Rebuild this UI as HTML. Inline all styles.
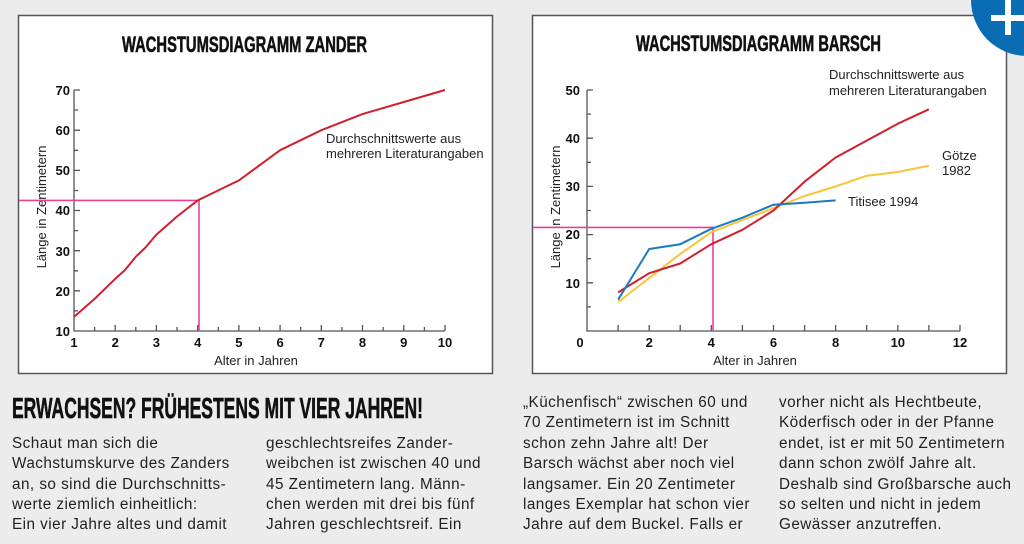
<!DOCTYPE html>
<html><head><meta charset="utf-8"><style>
html,body{margin:0;padding:0;background:#ececec;}
svg{display:block;}
text{font-family:"Liberation Sans",sans-serif;}
.t{font-weight:bold;font-size:13px;fill:#111;}
.b{font-size:15.3px;fill:#222;letter-spacing:0.45px;}
.a{font-size:13px;fill:#222;}
</style></head><body>
<svg width="1024" height="544" viewBox="0 0 1024 544" xmlns="http://www.w3.org/2000/svg">
<rect width="1024" height="544" fill="#ececec"/>
<!-- left chart -->
<rect x="18.5" y="15.5" width="474" height="358" fill="#fff" stroke="#555" stroke-width="1.5"/>
<text x="122" y="52" font-size="22" font-weight="bold" textLength="245" lengthAdjust="spacingAndGlyphs" fill="#111" stroke="#111" stroke-width="0.6">WACHSTUMSDIAGRAMM ZANDER</text>
<g stroke="#555" stroke-width="1.3" fill="none">
<path d="M74 90V331H445"/>
<path d="M74 90h6M74 110h4M74 130.2h6M74 150.3h4M74 170.4h6M74 190.5h4M74 210.5h6M74 230.6h4M74 250.7h6M74 270.8h4M74 290.8h6M74 310.9h4"/>
<path d="M115.2 331v-6M156.4 331v-6M197.7 331v-6M238.9 331v-6M280.1 331v-6M321.3 331v-6M362.5 331v-6M403.8 331v-6M445 331v-6M94.6 331v-4M135.8 331v-4M177 331v-4M218.3 331v-4M259.5 331v-4M300.7 331v-4M341.9 331v-4M383.2 331v-4M424.4 331v-4"/>
</g>
<g class="t" text-anchor="end">
<text x="70" y="95">70</text><text x="70" y="135">60</text><text x="70" y="175">50</text><text x="70" y="215">40</text><text x="70" y="256">30</text><text x="70" y="296">20</text><text x="70" y="336">10</text>
</g>
<g class="t" text-anchor="middle">
<text x="74" y="347">1</text><text x="115.2" y="347">2</text><text x="156.4" y="347">3</text><text x="197.7" y="347">4</text><text x="238.9" y="347">5</text><text x="280.1" y="347">6</text><text x="321.3" y="347">7</text><text x="362.5" y="347">8</text><text x="403.8" y="347">9</text><text x="445" y="347">10</text>
</g>
<text class="a" x="256" y="365" text-anchor="middle">Alter in Jahren</text>
<text class="a" transform="translate(46,207) rotate(-90)" text-anchor="middle">Länge in Zentimetern</text>
<text class="a" x="326" y="143">Durchschnittswerte aus</text>
<text class="a" x="326" y="158">mehreren Literaturangaben</text>
<path d="M19 200.4H199V331" stroke="#e8409a" stroke-width="1.6" fill="none"/>
<polyline points="74,316.9 94.6,298.9 115.2,278.8 125,270 135.8,256.7 145,248 156.4,234.6 177,216.5 197.7,200.4 238.9,180.4 280.1,150.2 321.3,130.2 362.5,114.1 403.8,102 445,90" fill="none" stroke="#d0202e" stroke-width="2" stroke-linejoin="round"/>

<!-- right chart -->
<rect x="532.5" y="15.5" width="474" height="358" fill="#fff" stroke="#555" stroke-width="1.5"/>
<text x="636" y="51" font-size="22" font-weight="bold" textLength="245" lengthAdjust="spacingAndGlyphs" fill="#111" stroke="#111" stroke-width="0.6">WACHSTUMSDIAGRAMM BARSCH</text>
<g stroke="#555" stroke-width="1.3" fill="none">
<path d="M587 90V331H960"/>
<path d="M587 90h6M587 114.1h4M587 138.2h6M587 162.3h4M587 186.4h6M587 210.5h4M587 234.6h6M587 258.7h4M587 282.8h6M587 306.9h4"/>
<path d="M618.1 331v-6M649.2 331v-6M680.2 331v-6M711.3 331v-6M742.4 331v-6M773.5 331v-6M804.6 331v-6M835.6 331v-6M866.7 331v-6M897.8 331v-6M928.9 331v-6M960 331v-6"/>
</g>
<g class="t" text-anchor="end">
<text x="580" y="95">50</text><text x="580" y="143">40</text><text x="580" y="191">30</text><text x="580" y="239">20</text><text x="580" y="288">10</text>
</g>
<g class="t" text-anchor="middle">
<text x="580" y="347">0</text><text x="649.2" y="347">2</text><text x="711.3" y="347">4</text><text x="773.5" y="347">6</text><text x="835.6" y="347">8</text><text x="897.8" y="347">10</text><text x="960" y="347">12</text>
</g>
<text class="a" x="755" y="365" text-anchor="middle">Alter in Jahren</text>
<text class="a" transform="translate(560,207) rotate(-90)" text-anchor="middle">Länge in Zentimetern</text>
<text class="a" x="829" y="79">Durchschnittswerte aus</text>
<text class="a" x="829" y="95">mehreren Literaturangaben</text>
<text class="a" x="942" y="160">Götze</text>
<text class="a" x="942" y="175">1982</text>
<text class="a" x="848" y="206">Titisee 1994</text>
<path d="M533 227.4H713V331" stroke="#e8409a" stroke-width="1.6" fill="none"/>
<polyline points="618.1,302.1 649.2,278 680.2,253.9 711.3,232.2 742.4,220.1 773.5,208.1 804.6,196 835.6,186.4 866.7,175.8 897.8,172 928.9,165.7" fill="none" stroke="#fbc437" stroke-width="2" stroke-linejoin="round"/>
<polyline points="618.1,292.4 649.2,273.2 680.2,263.5 711.3,244.2 742.4,229.8 773.5,210.5 804.6,181.6 835.6,157.5 866.7,140.6 897.8,123.7 928.9,109.3" fill="none" stroke="#d0202e" stroke-width="2" stroke-linejoin="round"/>
<polyline points="618.1,299.7 649.2,249 680.2,244.2 711.3,228.8 742.4,217.7 773.5,204.7 804.6,202.8 835.6,200.4" fill="none" stroke="#1a7bc0" stroke-width="2" stroke-linejoin="round"/>

<!-- blue badge -->
<circle cx="1027" cy="0" r="56" fill="#0a6cb2"/>
<path d="M991 18h33M1008 0v35" stroke="#fff" stroke-width="6"/>

<!-- text -->
<text x="12" y="418" font-size="29" font-weight="bold" textLength="411" lengthAdjust="spacingAndGlyphs" fill="#111" stroke="#111" stroke-width="0.6">ERWACHSEN? FRÜHESTENS MIT VIER JAHREN!</text>
<g class="b">
<text x="12" y="448">Schaut man sich die</text>
<text x="12" y="468">Wachstumskurve des Zanders</text>
<text x="12" y="489">an, so sind die Durchschnitts-</text>
<text x="12" y="509">werte ziemlich einheitlich:</text>
<text x="12" y="529">Ein vier Jahre altes und damit</text>
<text x="266" y="448">geschlechtsreifes Zander-</text>
<text x="266" y="468">weibchen ist zwischen 40 und</text>
<text x="266" y="489">45 Zentimetern lang. Männ-</text>
<text x="266" y="509">chen werden mit drei bis fünf</text>
<text x="266" y="529">Jahren geschlechtsreif. Ein</text>
<text x="523" y="407">„Küchenfisch“ zwischen 60 und</text>
<text x="523" y="427">70 Zentimetern ist im Schnitt</text>
<text x="523" y="448">schon zehn Jahre alt! Der</text>
<text x="523" y="468">Barsch wächst aber noch viel</text>
<text x="523" y="489">langsamer. Ein 20 Zentimeter</text>
<text x="523" y="509">langes Exemplar hat schon vier</text>
<text x="523" y="529">Jahre auf dem Buckel. Falls er</text>
<text x="779" y="407">vorher nicht als Hechtbeute,</text>
<text x="779" y="427">Köderfisch oder in der Pfanne</text>
<text x="779" y="448">endet, ist er mit 50 Zentimetern</text>
<text x="779" y="468">dann schon zwölf Jahre alt.</text>
<text x="779" y="489">Deshalb sind Großbarsche auch</text>
<text x="779" y="509">so selten und nicht in jedem</text>
<text x="779" y="529">Gewässer anzutreffen.</text>
</g>
</svg>
</body></html>
